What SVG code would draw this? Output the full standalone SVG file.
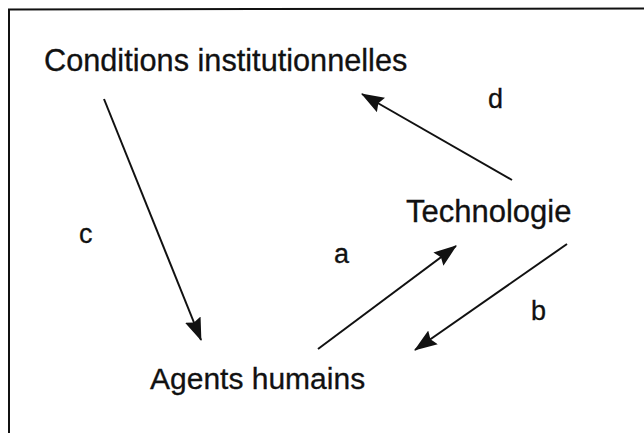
<svg xmlns="http://www.w3.org/2000/svg" width="644" height="433" viewBox="0 0 644 433">
  <defs>
    <marker id="head" viewBox="0 0 22 16" refX="21" refY="8" markerWidth="23" markerHeight="17" markerUnits="userSpaceOnUse" orient="auto">
      <path d="M0,0 L22,8 L0,16 L3,8 z" fill="#111"/>
    </marker>
    <style>
      .frame { stroke: #111; stroke-width: 2; fill: none; }
      .node { font-family: "Liberation Sans", Arial, sans-serif; font-size: 30px; fill: #111; stroke: #111; stroke-width: 0.3; }
      .lbl { font-family: "Liberation Sans", Arial, sans-serif; font-size: 27px; fill: #111; stroke: #111; stroke-width: 0.3; }
      .edge { stroke: #111; stroke-width: 2; fill: none; marker-end: url(#head); }
    </style>
  </defs>
  <rect width="644" height="433" fill="#fff"/>

  <!-- open frame: top and left edges only -->
  <path class="frame" d="M9,433 L9,9.5 L644,8.5"/>

  <g id="conditions">
    <text class="node" x="44" y="71" style="font-size:30.7px">Conditions institutionnelles</text>
  </g>
  <g id="technologie">
    <text class="node" x="406" y="222" style="font-size:31px">Technologie</text>
  </g>
  <g id="agents">
    <text class="node" x="150" y="389">Agents humains</text>
  </g>

  <g id="connectors">
    <line class="edge" x1="104" y1="99" x2="201" y2="340"/>
    <line class="edge" x1="512" y1="180" x2="362" y2="94"/>
    <line class="edge" x1="318" y1="349" x2="456" y2="246"/>
    <line class="edge" x1="567" y1="244" x2="415" y2="350"/>
    <text class="lbl" x="79" y="243">c</text>
    <text class="lbl" x="488" y="108">d</text>
    <text class="lbl" x="334" y="263">a</text>
    <text class="lbl" x="531" y="320">b</text>
  </g>
</svg>
